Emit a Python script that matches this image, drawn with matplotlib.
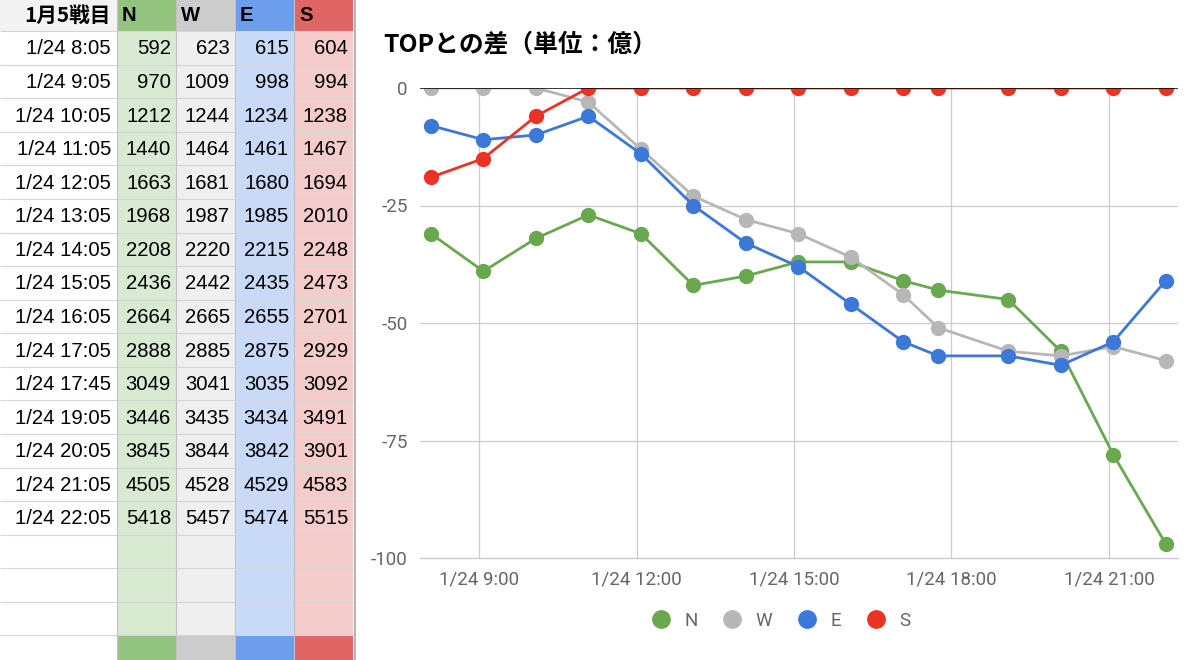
import matplotlib
matplotlib.use("Agg")
import matplotlib.pyplot as plt
import matplotlib.dates as mdates
from matplotlib.patches import Rectangle
from matplotlib.lines import Line2D
from datetime import datetime

# ---------------- data ----------------
header_label = "1月5戦目"
series_names = ["N", "W", "E", "S"]
time_labels = ["1/24 8:05", "1/24 9:05", "1/24 10:05", "1/24 11:05", "1/24 12:05",
               "1/24 13:05", "1/24 14:05", "1/24 15:05", "1/24 16:05", "1/24 17:05",
               "1/24 17:45", "1/24 19:05", "1/24 20:05", "1/24 21:05", "1/24 22:05"]
N = [592, 970, 1212, 1440, 1663, 1968, 2208, 2436, 2664, 2888, 3049, 3446, 3845, 4505, 5418]
W = [623, 1009, 1244, 1464, 1681, 1987, 2220, 2442, 2665, 2885, 3041, 3435, 3844, 4528, 5457]
E = [615, 998, 1234, 1461, 1680, 1985, 2215, 2435, 2655, 2875, 3035, 3434, 3842, 4529, 5474]
S = [604, 994, 1238, 1467, 1694, 2010, 2248, 2473, 2701, 2929, 3092, 3491, 3901, 4583, 5515]
chart_title = "TOPとの差（単位：億）"
yticks = [0, -25, -50, -75, -100]
xtick_hours = [9, 12, 15, 18, 21]
xtick_fmt = "1/24 {}:00"

series = [N, W, E, S]
line_colors = ["#6aa84f", "#b7b7b7", "#3c78d8", "#ea3323"]
light_cols = ["#d9ead3", "#efefef", "#c9daf8", "#f4cccc"]
dark_cols = ["#93c47d", "#cccccc", "#6d9eeb", "#e06666"]

YEAR = 2018
def parse(lbl):
    d, t = lbl.split()
    mo, dy = d.split("/")
    h, m = t.split(":")
    return datetime(YEAR, int(mo), int(dy), int(h), int(m))
times = [parse(t) for t in time_labels]
tops = [max(vals) for vals in zip(*series)]
gaps = [[v - tp for v, tp in zip(s, tops)] for s in series]

W_PX, H_PX = 1200, 660
fig = plt.figure(figsize=(W_PX / 100, H_PX / 100), dpi=100)
fig.patch.set_facecolor("white")

# ---------------- table ----------------
ax_t = fig.add_axes([0, 0, 356 / W_PX, 1])
ax_t.set_xlim(0, 356)
ax_t.set_ylim(H_PX, 0)
ax_t.axis("off")

col_edges = [0, 117, 176, 235, 294, 353]
hdr_top, hdr_bot, row_h = -3, 31.2, 33.57
n_rows_total = 19  # 15 data + 3 empty + 1 coloured
TFONT = ["Liberation Sans", "Noto Sans CJK JP"]
TFS = 14.6

# header
ax_t.add_patch(Rectangle((0, hdr_top), 117, hdr_bot - hdr_top, fc="#f3f3f3", ec="none"))
for j in range(4):
    x0 = col_edges[j + 1]
    ax_t.add_patch(Rectangle((x0, hdr_top), col_edges[j + 2] - x0, hdr_bot - hdr_top,
                             fc=dark_cols[j], ec="none"))
    ax_t.text(x0 + 5, (hdr_top + hdr_bot) / 2 + 1, series_names[j], ha="left", va="center",
              fontsize=TFS, fontweight="bold", family=TFONT, color="black")
ax_t.text(111, (hdr_top + hdr_bot) / 2 + 1, header_label, ha="right", va="center",
          fontsize=TFS + 0.3, fontweight="bold", family=["Noto Sans CJK JP"], color="black")

for r in range(n_rows_total):
    top = hdr_bot + r * row_h
    for j in range(4):
        x0 = col_edges[j + 1]
        fc = dark_cols[j] if r == n_rows_total - 1 else light_cols[j]
        ax_t.add_patch(Rectangle((x0, top), col_edges[j + 2] - x0, row_h, fc=fc, ec="none"))
    cy = top + row_h / 2 + 1
    if r < len(time_labels):
        ax_t.text(111, cy, time_labels[r], ha="right", va="center", fontsize=TFS,
                  family=TFONT, color="black")
        for j in range(4):
            ax_t.text(col_edges[j + 2] - 5, cy, str(series[j][r]), ha="right", va="center",
                      fontsize=TFS, family=TFONT, color="black")

# grid lines of table
for r in range(n_rows_total + 1):
    y = hdr_bot + r * row_h
    ax_t.plot([0, 353], [y, y], color="#d6d6d6", lw=0.8, solid_capstyle="butt")
for x in col_edges[1:-1]:
    ax_t.plot([x, x], [hdr_top, H_PX], color="#c3c3c3", lw=0.8)
ax_t.plot([354.5, 354.5], [hdr_top, H_PX], color="#b5b5b5", lw=2.4)

# ---------------- chart ----------------
L, R, T, B = 420, 1178, 88, 558
ax = fig.add_axes([L / W_PX, 1 - B / H_PX, (R - L) / W_PX, (B - T) / H_PX])
ax.set_xlim(datetime(YEAR, 1, 24, 7, 52, 30), datetime(YEAR, 1, 24, 22, 19))
ax.set_ylim(-100, 0)

for g, c in zip(gaps, line_colors):
    ax.plot(times, g, color=c, lw=2.0, marker="o", markersize=10, zorder=3)

ax.axhline(0, color="black", lw=1.1, zorder=4)
for yv in yticks[1:-1]:
    ax.axhline(yv, color="#cccccc", lw=0.9, zorder=1)
xt = [datetime(YEAR, 1, 24, h, 0) for h in xtick_hours]
for x in xt:
    ax.axvline(x, color="#cccccc", lw=0.9, zorder=1)

ax.set_yticks(yticks)
ax.set_yticklabels([str(v) for v in yticks])
ax.set_xticks(xt)
ax.set_xticklabels([xtick_fmt.format(h) for h in xtick_hours])
ax.tick_params(length=0, labelsize=13.5, labelcolor="#666666")
ax.tick_params(axis="y", pad=9)
ax.tick_params(axis="x", pad=9)
for lab in ax.get_xticklabels() + ax.get_yticklabels():
    lab.set_family(["Roboto", "DejaVu Sans"])
for sp in ["top", "right", "left"]:
    ax.spines[sp].set_visible(False)
ax.spines["bottom"].set_color("#cccccc")
ax.spines["bottom"].set_linewidth(1.0)

fig.text(383 / W_PX, 1 - 45 / H_PX, chart_title, ha="left", va="center", fontsize=17.8,
         fontweight="bold", family=["Noto Sans CJK JP"], color="black")

handles = [Line2D([], [], marker="o", linestyle="none", color=c, markersize=12.5)
           for c in line_colors]
leg = fig.legend(handles, series_names, loc="center", bbox_to_anchor=(781 / W_PX, 1 - 621 / H_PX),
                 ncol=4, frameon=False, handletextpad=0.75, columnspacing=1.35,
                 handlelength=1.0, prop={"family": ["Roboto", "DejaVu Sans"], "size": 13.5},
                 labelcolor="#666666")

fig.savefig("out.png", dpi=100, facecolor="white")
